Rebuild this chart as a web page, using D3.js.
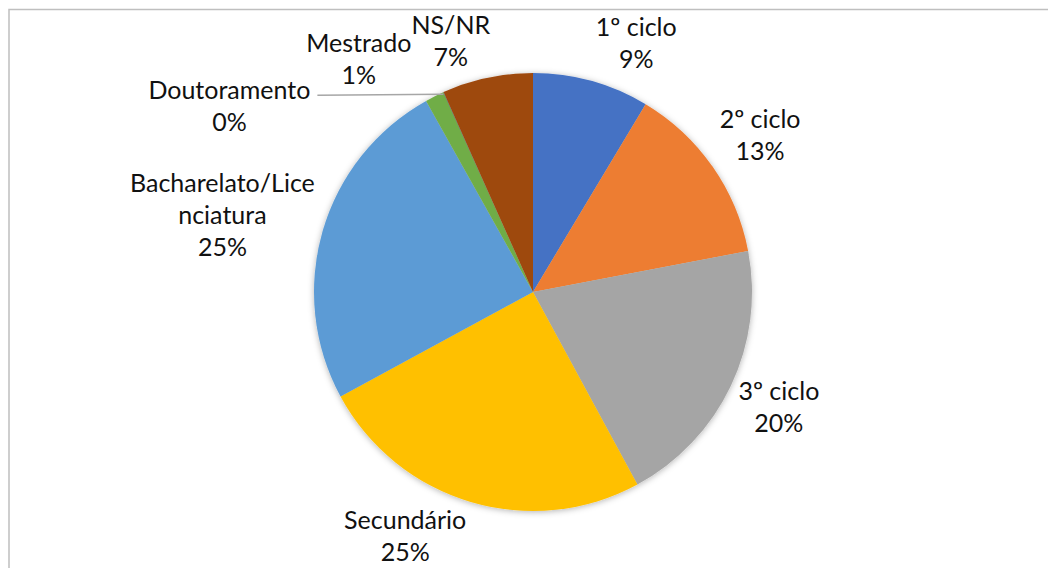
<!DOCTYPE html>
<html>
<head>
<meta charset="utf-8">
<script src="https://cdn.jsdelivr.net/npm/d3@7"></script>
<style>
	body { margin: 0; background: #fff; }
	svg { display: block; }
	text { font-family: Lato, "Open Sans", sans-serif; font-size: 25px; fill: #111; }
</style>
</head>
<body>
<svg id="chart" width="1048" height="568"></svg>
<script>
// values (share of respondents, %)
const categories = ["1º ciclo", "2º ciclo", "3º ciclo", "Secundário", "Bacharelato/Licenciatura", "Mestrado", "Doutoramento", "NS/NR"];
const categoryLines = [["1º ciclo"], ["2º ciclo"], ["3º ciclo"], ["Secundário"], ["Bacharelato/Lice", "nciatura"], ["Mestrado"], ["Doutoramento"], ["NS/NR"]];
const shares = [8.6, 13.4, 20.1, 25.0, 24.8, 1.4, 0.02, 6.7];
const palette = ["#4472C4", "#ED7D31", "#A5A5A5", "#FFC000", "#5B9BD5", "#70AD47", "#264478", "#9E480E"];

var width = 1048, height = 568;
var cx = 533, cy = 292, radius = 219;
var lineH = 32, gap = 5, pad = 3, leaderLen = 126, nudgeMax = 50;

var svg = d3.select("#chart");

// chart area border (only top and left edges fall inside the picture)
svg.append("path")
	.attr("d", "M9," + height + "V9.5H" + width)
	.attr("fill", "none")
	.attr("stroke", "#bfbfbf")
	.attr("stroke-width", 1.5);

var defs = svg.append("defs");
defs.append("filter")
	.attr("id", "soft-shadow")
	.attr("x", "-10%").attr("y", "-10%")
	.attr("width", "120%").attr("height", "120%")
	.append("feDropShadow")
	.attr("dx", 0).attr("dy", 1)
	.attr("stdDeviation", 3)
	.attr("flood-color", "#000")
	.attr("flood-opacity", 0.3);

var pie = d3.pie()
	.sort(null)
	.value(function(d) { return d; });

var arcs = pie(shares);

var arc = d3.arc()
	.innerRadius(0)
	.outerRadius(radius);

var color = d3.scaleOrdinal()
	.domain(categories)
	.range(palette);

var g = svg.append("g")
	.attr("transform", "translate(" + cx + "," + cy + ")");

g.append("g")
	.attr("filter", "url(#soft-shadow)")
	.selectAll("path")
	.data(arcs)
	.enter()
	.append("path")
	.attr("d", arc)
	.attr("fill", function(d, i) { return color(categories[i]); });

function clamp(v) {
	return Math.max(-1, Math.min(1, v));
}

function overlapX(a, b) {
	var ox = Math.min(a.left + a.w, b.left + b.w) - Math.max(a.left, b.left);
	var oy = Math.min(a.top + a.h, b.top + b.h) - Math.max(a.top, b.top);
	return (ox > 0 && oy > 0) ? ox : 0;
}

var leaders = svg.append("g").attr("class", "leaders");
var labels = svg.append("g").attr("class", "labels");
var placed = [];

arcs.forEach(function(d, i) {
	var lines = categoryLines[i].concat([Math.round(shares[i]) + "%"]);
	var group = labels.append("g");

	var texts = group.selectAll("text")
		.data(lines)
		.enter()
		.append("text")
		.attr("text-anchor", "middle")
		.text(function(t) { return t; });

	var w = d3.max(texts.nodes(), function(n) { return n.getComputedTextLength(); }) + 2 * pad;
	var h = lines.length * lineH;

	var mid = (d.startAngle + d.endAngle) / 2;
	var ux = Math.sin(mid), uy = -Math.cos(mid);
	var px = cx + (radius + gap) * ux;
	var py = cy + (radius + gap) * uy;

	// outside-end placement: anchor point slides round the box with the angle
	var ax = 0.5 - 0.5 * clamp(ux * 4);
	var ay = 0.5 - 0.5 * clamp(uy * (ux < 0 ? 1 : 1.5));
	var box = { left: px - ax * w, top: py - ay * h, w: w, h: h };

	var clash = placed.filter(function(p) { return overlapX(box, p.box) > 0; });
	var small = clash.every(function(p) { return overlapX(box, p.box) < nudgeMax && !p.leader; });

	if (clash.length && small) {
		// slight overlap: push the earlier label aside, just enough
		clash.forEach(function(p) {
			var dx = -(overlapX(box, p.box) - 2 * pad);
			p.box.left += dx;
			p.shift += dx;
			p.group.attr("transform", "translate(" + p.shift + ",-3)");
		});
	} else if (clash.length) {
		// no room: pull the label out to the left and draw a leader line
		var ex = cx + radius * ux, ey = cy + radius * uy;
		var endX = ex - leaderLen;
		leaders.append("line")
			.attr("x1", ex).attr("y1", ey + 2)
			.attr("x2", endX).attr("y2", ey + 3)
			.attr("stroke", "#a6a6a6")
			.attr("stroke-width", 1.5);
		box = { left: endX - 4 - w, top: ey - lineH / 2 - 1, w: w, h: h };
	}
	placed.push({ box: box, group: group, shift: 0, leader: clash.length > 0 && !small });

	texts
		.attr("x", box.left + w / 2)
		.attr("y", function(t, j) { return box.top + (j + 0.5) * lineH + 8; });
});
</script>
</body>
</html>
